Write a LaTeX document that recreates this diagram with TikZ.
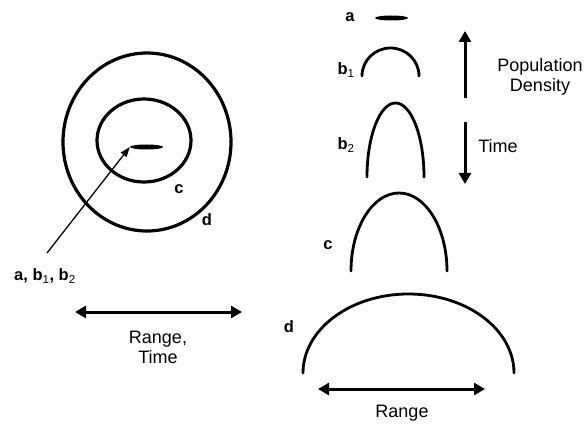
\documentclass[tikz,border=0pt]{standalone}
\usepackage{fontspec}
\setmainfont{Liberation Sans}
\usetikzlibrary{arrows.meta,shapes.geometric}
\newcommand{\sbs}[1]{\textsubscript{\fontseries{m}\selectfont #1}}
\begin{document}
\begin{tikzpicture}[x=1pt,y=-1pt,
  ring/.style={line width=3.2pt},
  curve/.style={line width=2.8pt, line cap=round},
  dashmark/.style={ellipse, fill=black, minimum width=33pt, minimum height=5pt, inner sep=0pt},
  lbl/.style={font=\fontsize{18}{20}\selectfont, inner sep=0pt, align=center},
  tag/.style={font=\bfseries\fontsize{16.5}{18}\selectfont, inner sep=0pt},
  bigarrow/.style={line width=3pt, -{Triangle[length=11pt,width=12pt]}},
  dblarrow/.style={line width=3pt, {Triangle[length=11pt,width=12pt]}-{Triangle[length=11pt,width=12pt]}},
  thinarrow/.style={line width=1.3pt, -{Triangle[length=10pt,width=7pt]}}
]
\useasboundingbox (0,0) rectangle (584,425);
\fill[white] (0,0) rectangle (584,425);

% ---------- left diagram ----------
\draw[ring] (147,142) ellipse [x radius=84, y radius=89];
\draw[ring] (144,140.5) ellipse [x radius=47, y radius=41.5];
\node[dashmark] (dashL) at (146.5,147) {};
\node[tag] (lc) at (179,189) {c};
\node[tag] (ld) at (207,220) {d};
\node[tag] (labc) at (45,276) {a, b\sbs{1}, b\sbs{2}};
\coordinate (arrS) at (47,253);
\draw[thinarrow] (arrS) -- (dashL.west);
\coordinate (rtL) at (75,312);
\coordinate (rtR) at (242,312);
\draw[dblarrow] (rtL) -- (rtR);
\node[lbl] (rangetime) at (158,347) {Range,\\Time};

% ---------- right diagram ----------
\node[tag] (la) at (350,17) {a};
\node[dashmark] (dashA) at (391.5,18) {};
\node[tag] (lb1) at (346,70) {b\sbs{1}};
\draw[curve] (362,76) .. controls (362,60.5) and (374.8,48) .. (390.5,48) .. controls (406.2,48) and (419,60.5) .. (419,76);
\node[tag] (lb2) at (346,145) {b\sbs{2}};
\draw[curve] (367,177) .. controls (367,136.1) and (379.8,103) .. (395.5,103) .. controls (411.2,103) and (424,136.1) .. (424,177);
\node[tag] (lc2) at (328,245) {c};
\draw[curve] (351,271) .. controls (351,227.9) and (372.5,193) .. (399,193) .. controls (425.5,193) and (447,227.9) .. (447,271);
\node[tag] (ld2) at (289,327) {d};
\draw[curve] (303,373) .. controls (303,329.4) and (350.2,294) .. (408.5,294) .. controls (466.8,294) and (514,329.4) .. (514,373);

\coordinate (upS) at (465,98);
\coordinate (upE) at (465,31);
\draw[bigarrow] (upS) -- (upE);
\node[lbl] (popd) at (540,77) {Population\\Density};
\coordinate (dnS) at (465,122);
\coordinate (dnE) at (465,184);
\draw[bigarrow] (dnS) -- (dnE);
\node[lbl] (ltime) at (498,146) {Time};

\coordinate (rgL) at (318,389);
\coordinate (rgR) at (485,389);
\draw[dblarrow] (rgL) -- (rgR);
\node[lbl] (lrange) at (402,413) {Range};
\end{tikzpicture}
\end{document}
